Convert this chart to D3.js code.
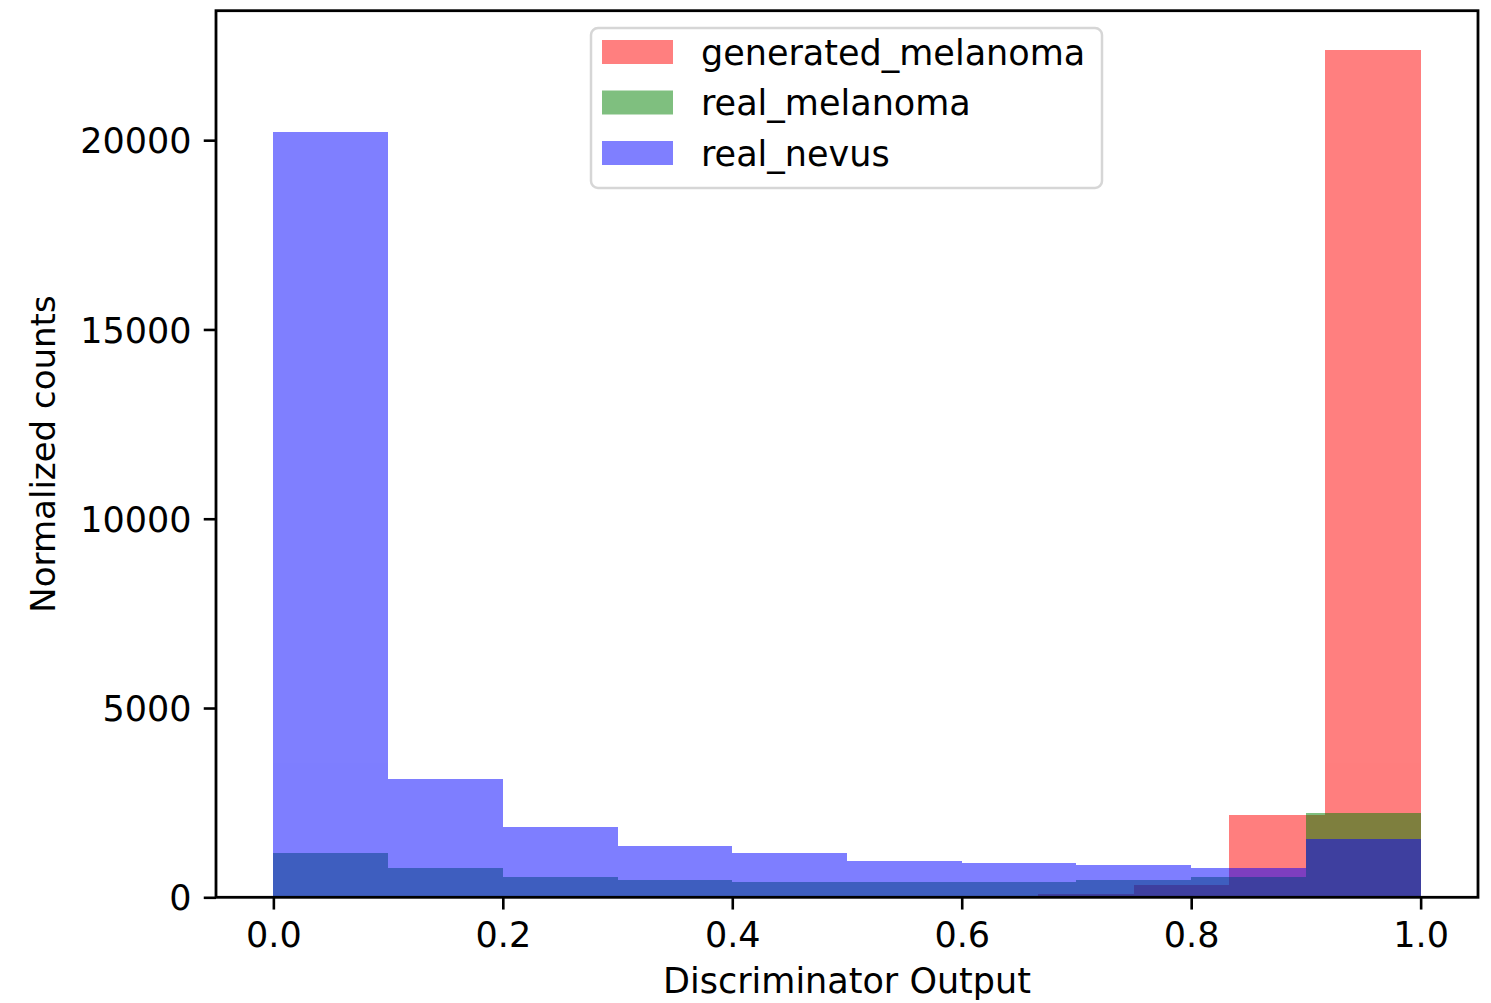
<!DOCTYPE html>
<html>
<head>
<meta charset="utf-8">
<script src="https://cdn.jsdelivr.net/npm/d3@7"></script>
<style>
    body { margin: 0; background: #fff; }
    text { font-family: "DejaVu Sans", sans-serif; }
</style>
</head>
<body>
<div id="chart"></div>
<script>
// histogram counts
var seriesNames = ["generated_melanoma", "real_melanoma", "real_nevus"];
var seriesColors = ["red", "green", "blue"];

var redEdges = [0, 0.0833, 0.1667, 0.25, 0.3333, 0.4167, 0.5, 0.5833, 0.6667, 0.75, 0.8333, 0.9167, 1.0];
var redCounts = [0, 0, 0, 0, 0, 0, 0, 0, 79, 325, 2174, 22390];

var greenEdges = [0, 0.1, 0.2, 0.3, 0.4, 0.5, 0.6, 0.7, 0.8, 0.9, 1.0];
var greenCounts = [1162, 782, 528, 457, 396, 396, 396, 457, 528, 2235];

var blueEdges = [0, 0.1, 0.2, 0.3, 0.4, 0.5, 0.6, 0.7, 0.8, 0.9, 1.0];
var blueCounts = [20220, 3126, 1865, 1355, 1162, 967, 914, 853, 782, 1540];

var xTicks = [0.0, 0.2, 0.4, 0.6, 0.8, 1.0];
var yTicks = [0, 5000, 10000, 15000, 20000];
var yMax = 23420;

var width = 1491;
var height = 1003;
// plot box in pixels ("top" is taken by window.top)
var plotLeft = 216, plotRight = 1478, plotTop = 10.7, plotBottom = 897.3;
var fontSize = 35;

var svg = d3.select("#chart")
    .append("svg")
    .attr("width", width)
    .attr("height", height);

var xScale = d3.scaleLinear().domain([-0.05, 1.05]).range([plotLeft, plotRight]);
var yScale = d3.scaleLinear().domain([0, yMax]).range([plotBottom, plotTop]);

function toBins(edges, counts) {
    return counts.map(function(c, i) {
        return {x0: edges[i], x1: edges[i + 1], count: c};
    });
}

var series = [
    toBins(redEdges, redCounts),
    toBins(greenEdges, greenCounts),
    toBins(blueEdges, blueCounts)
];

// each series in its own half transparent group, so bars blend like matplotlib alpha
series.forEach(function(bins, i) {
    svg.append("g")
        .attr("opacity", 0.5)
        .attr("fill", seriesColors[i])
        .selectAll("rect")
        .data(bins.filter(function(d) { return d.count > 0; }))
        .enter().append("rect")
        .attr("shape-rendering", "crispEdges")
        .attr("x", function(d) { return xScale(d.x0); })
        .attr("width", function(d) { return xScale(d.x1) - xScale(d.x0); })
        .attr("y", function(d) { return yScale(d.count); })
        .attr("height", function(d) { return yScale(0) - yScale(d.count); });
});

// X axis
var xAxis = svg.append("g")
    .attr("transform", "translate(0," + plotBottom + ")")
    .call(d3.axisBottom(xScale)
        .tickValues(xTicks)
        .tickFormat(d3.format(".1f"))
        .tickSize(12.25)
        .tickPadding(13));

// Y axis
var yAxis = svg.append("g")
    .attr("transform", "translate(" + plotLeft + ",0)")
    .call(d3.axisLeft(yScale)
        .tickValues(yTicks)
        .tickFormat(d3.format("d"))
        .tickSize(12.25)
        .tickPadding(12.25));

[xAxis, yAxis].forEach(function(ax) {
    ax.select(".domain").remove();
    ax.attr("font-size", fontSize).attr("font-family", "DejaVu Sans");
    ax.selectAll(".tick line").attr("stroke", "#000").attr("stroke-width", 2.6);
    ax.selectAll(".tick text").attr("fill", "#000");
});
yAxis.selectAll(".tick text").attr("dy", "0.36em");

// spines
svg.append("rect")
    .attr("x", plotLeft)
    .attr("y", plotTop)
    .attr("width", plotRight - plotLeft)
    .attr("height", plotBottom - plotTop)
    .attr("fill", "none")
    .attr("stroke", "#000")
    .attr("stroke-width", 2.8);

// axis labels
svg.append("text")
    .attr("x", (plotLeft + plotRight) / 2)
    .attr("y", 993)
    .attr("text-anchor", "middle")
    .attr("font-size", fontSize)
    .text("Discriminator Output");

svg.append("text")
    .attr("transform", "translate(55," + ((plotTop + plotBottom) / 2) + ") rotate(-90)")
    .attr("text-anchor", "middle")
    .attr("font-size", 34)
    .text("Normalized counts");

// legend
var legend = svg.append("g").attr("transform", "translate(591,28)");

legend.append("rect")
    .attr("width", 511)
    .attr("height", 160)
    .attr("rx", 7)
    .attr("fill", "#fff")
    .attr("fill-opacity", 0.8)
    .attr("stroke", "#d6d6d6")
    .attr("stroke-width", 2.5);

var rows = legend.selectAll(".row")
    .data(seriesNames)
    .enter().append("g")
    .attr("class", "row")
    .attr("transform", function(d, i) { return "translate(0," + (i * 50.5) + ")"; });

rows.append("rect")
    .attr("x", 11)
    .attr("y", 12)
    .attr("width", 71)
    .attr("height", 24)
    .attr("fill", function(d, i) { return seriesColors[i]; })
    .attr("fill-opacity", 0.5);

rows.append("text")
    .attr("x", 110)
    .attr("y", 36.5)
    .attr("font-size", fontSize)
    .text(function(d) { return d; });
</script>
</body>
</html>
